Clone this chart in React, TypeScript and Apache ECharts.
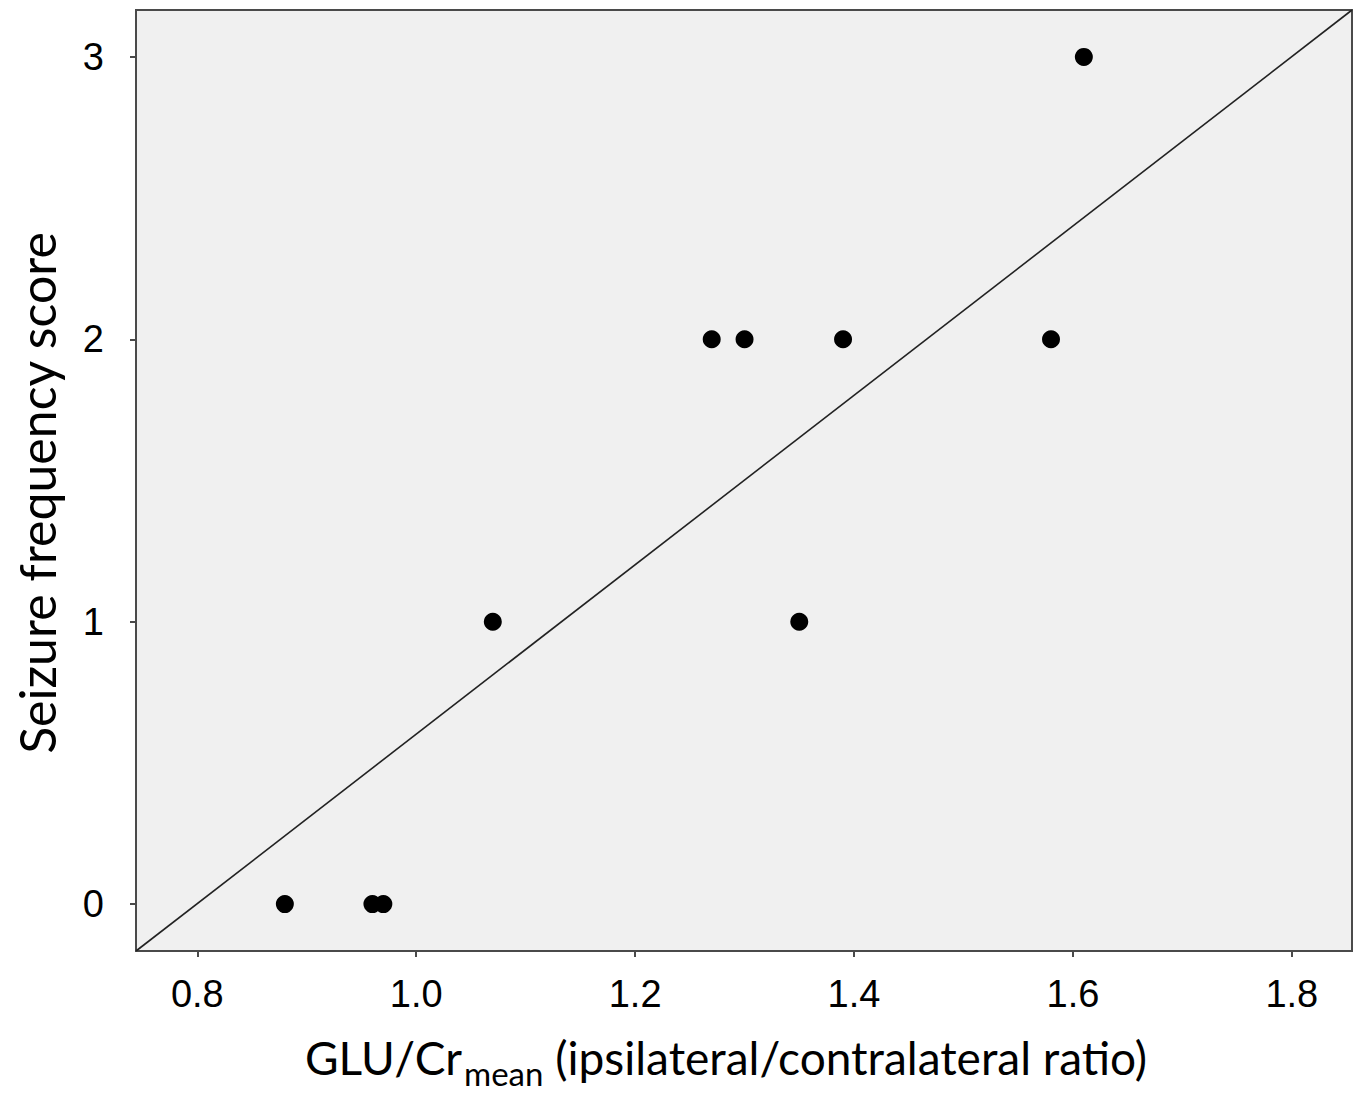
import React, { useEffect, useRef } from "react";
import * as echarts from "echarts";

const glucoseRatio = [0.88, 0.96, 0.97, 1.07, 1.27, 1.3, 1.35, 1.39, 1.58, 1.61];
const seizureScore = [0, 0, 0, 1, 2, 2, 1, 2, 2, 3];
const xTicks = [0.8, 1.0, 1.2, 1.4, 1.6, 1.8];
const yTicks = [0, 1, 2, 3];
const xRange = [0.744, 1.855];
const yRange = [-0.166, 3.166];

const titleFont = "Lato";
const tickFont = "Liberation Sans";

export default function App() {
  const ref = useRef<HTMLDivElement>(null);
  useEffect(() => {
    if (!ref.current) return;
    const chart = echarts.init(ref.current, undefined, { renderer: "svg" });
    chart.setOption({
      animation: false,
      backgroundColor: "#ffffff",
      grid: {
        left: 136,
        top: 10,
        width: 1216,
        height: 943,
        show: true,
        backgroundColor: "#f0f0f0",
        borderColor: "#4a4a4a",
        borderWidth: 2,
      },
      xAxis: {
        type: "value",
        min: xRange[0],
        max: xRange[1],
        splitLine: { show: false },
        axisLine: { show: true, onZero: false, lineStyle: { color: "#4a4a4a", width: 2 } },
        axisTick: { show: true, inside: false, length: 6, customValues: xTicks, lineStyle: { color: "#4a4a4a", width: 2 } },
        axisLabel: {
          customValues: xTicks,
          formatter: (v: number) => v.toFixed(1),
          fontFamily: tickFont,
          fontSize: 38,
          color: "#000",
          margin: 24,
        },
        name: "GLU/Cr{sub|mean} (ipsilateral/contralateral ratio)",
        nameLocation: "middle",
        nameGap: 74,
        nameTextStyle: {
          fontFamily: titleFont,
          fontSize: 46,
          color: "#000",
          padding: [0, 36, 0, 0],
          rich: {
            sub: { fontFamily: titleFont, fontSize: 33, color: "#000", padding: [31, 0, 0, 2] },
          },
        },
      },
      yAxis: {
        type: "value",
        min: yRange[0],
        max: yRange[1],
        splitLine: { show: false },
        axisLine: { show: true, onZero: false, lineStyle: { color: "#4a4a4a", width: 2 } },
        axisTick: { show: true, inside: false, length: 6, customValues: yTicks, lineStyle: { color: "#4a4a4a", width: 2 } },
        axisLabel: {
          customValues: yTicks,
          fontFamily: tickFont,
          fontSize: 38,
          color: "#000",
          margin: 32,
        },
        name: "Seizure frequency score",
        nameLocation: "middle",
        nameGap: 74,
        nameTextStyle: {
          fontFamily: titleFont,
          fontSize: 50,
          color: "#000",
          padding: [0, 25, 0, 0],
        },
      },
      series: [
        {
          type: "line",
          data: [
            [xRange[0], yRange[0]],
            [xRange[1], yRange[1]],
          ],
          symbol: "none",
          lineStyle: { color: "#222", width: 1.6 },
          silent: true,
          z: 1,
        },
        {
          type: "scatter",
          data: glucoseRatio.map((x, i) => [x, seizureScore[i]]),
          symbol: "circle",
          symbolSize: 18,
          itemStyle: { color: "#000", opacity: 1 },
          z: 2,
        },
      ],
    });
    return () => chart.dispose();
  }, []);
  return (
    <div
      ref={ref}
      style={{ position: "fixed", left: 0, top: 0, width: 1363, height: 1094 }}
    />
  );
}
